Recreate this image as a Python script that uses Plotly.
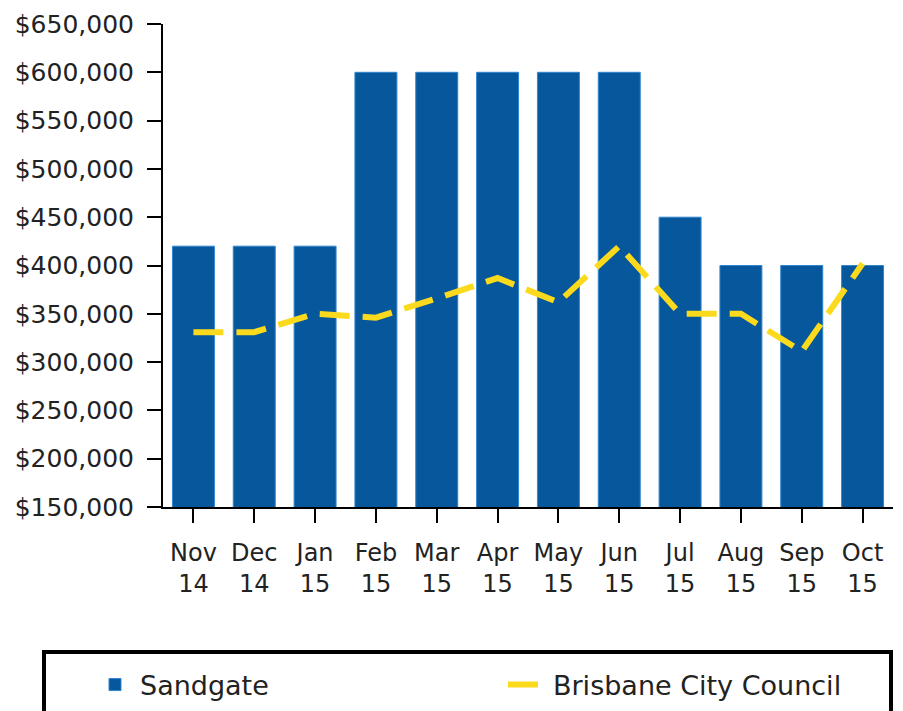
import plotly.graph_objects as go

months = ["Nov<br>14", "Dec<br>14", "Jan<br>15", "Feb<br>15", "Mar<br>15", "Apr<br>15",
          "May<br>15", "Jun<br>15", "Jul<br>15", "Aug<br>15", "Sep<br>15", "Oct<br>15"]
sandgate = [420000, 420000, 420000, 600000, 600000, 600000, 600000, 600000,
            450000, 400000, 400000, 400000]
brisbane = [331000, 331000, 350000, 346000, 366000, 387000, 362000, 420000,
            350000, 350000, 311000, 402000]
y_ticks = [150000, 200000, 250000, 300000, 350000, 400000, 450000, 500000,
           550000, 600000, 650000]
y_tick_labels = ["$150,000", "$200,000", "$250,000", "$300,000", "$350,000", "$400,000",
                 "$450,000", "$500,000", "$550,000", "$600,000", "$650,000"]

FONT = "DejaVu Sans"
L, R, T, B = 163, 10, 24, 204
W, H = 903, 711
PW, PH = W - L - R, H - T - B


def px_x(p):
    return (p - L) / PW


def px_y(p):
    return (H - B - p) / PH


fig = go.Figure()
fig.add_trace(go.Bar(
    x=months, y=sandgate, name="Sandgate", legend="legend",
    marker=dict(color="#06579B", line=dict(color="#2F86D0", width=1)),
))
fig.add_trace(go.Scatter(
    x=months, y=brisbane, name="Brisbane City Council", mode="lines", legend="legend2",
    line=dict(color="#FBDA1E", width=6, dash="30px,13px"),
))

legend_common = dict(
    orientation="h", xref="container", yref="container", xanchor="left", yanchor="middle",
    y=1 - 685 / H, borderwidth=0, bgcolor="rgba(0,0,0,0)",
    font=dict(family=FONT, size=27, color="#222222"), itemwidth=40,
)

fig.update_layout(
    width=W, height=H,
    margin=dict(l=L, r=R, t=T, b=B),
    plot_bgcolor="white", paper_bgcolor="white",
    bargap=0.31,
    font=dict(family=FONT, size=23, color="#222222"),
    showlegend=True,
    legend=dict(x=90 / W, **legend_common),
    legend2=dict(x=503 / W, **legend_common),
    shapes=[dict(
        type="rect", xref="paper", yref="paper",
        x0=px_x(44), x1=px_x(891), y0=px_y(652), y1=px_y(716),
        line=dict(color="black", width=4), fillcolor="rgba(0,0,0,0)", layer="above",
    )],
)
fig.update_xaxes(
    showline=True, linecolor="black", linewidth=2,
    ticks="outside", ticklen=14, tickcolor="black", tickwidth=2,
    showgrid=False, tickfont=dict(size=24), automargin=False,
    ticklabelstandoff=9,
)
fig.update_yaxes(
    range=[150000, 650000], tickvals=y_ticks, ticktext=y_tick_labels,
    showline=True, linecolor="black", linewidth=2,
    ticks="outside", ticklen=14, tickcolor="black", tickwidth=2,
    showgrid=False, zeroline=False, tickfont=dict(size=25), automargin=False,
    ticklabelstandoff=8,
)

fig.write_html("out.html", config={"displayModeBar": False},
               post_script="document.body.style.margin='0px';")
